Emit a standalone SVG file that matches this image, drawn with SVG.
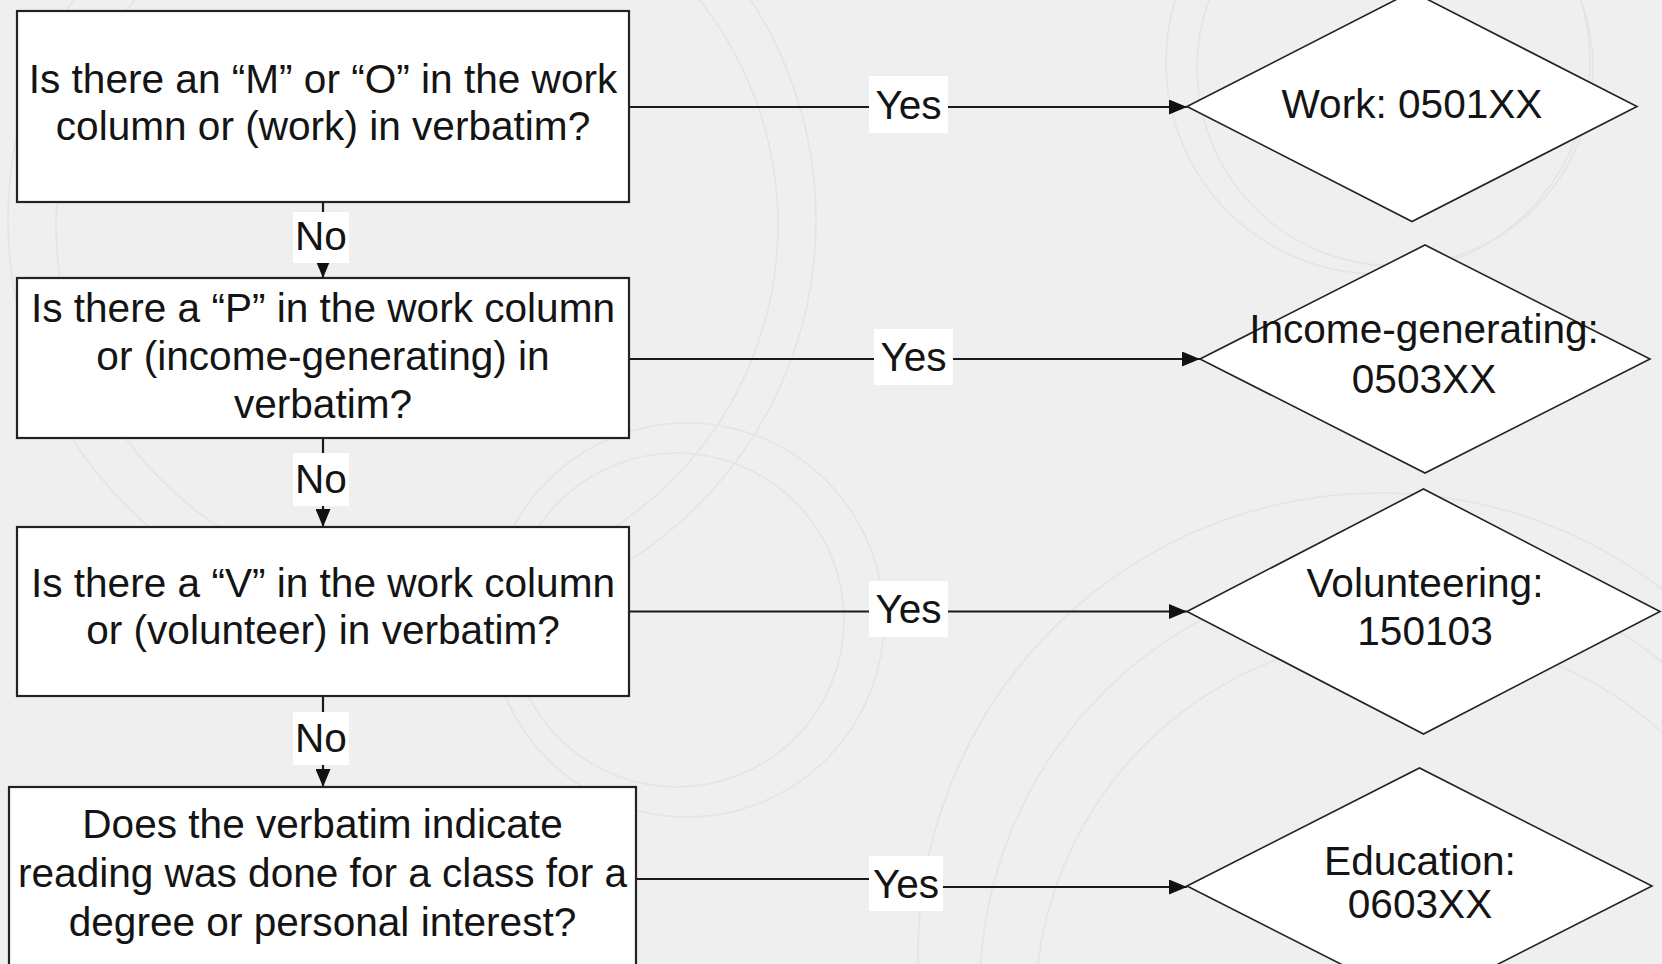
<svg xmlns="http://www.w3.org/2000/svg" width="1662" height="964" viewBox="0 0 1662 964">
<defs>
<style>
.bg{fill:#efefef}
.deco{fill:none;stroke:#e4e4e4;stroke-width:1.6}
.box{fill:#ffffff;stroke:#222222;stroke-width:2.2}
.dia{fill:#ffffff;stroke:#222222;stroke-width:1.6}
.t{font-family:"Liberation Sans",Arial,sans-serif;font-size:40.6px;fill:#141414;text-anchor:middle}
.lbl{fill:#ffffff}
.conn{fill:none;stroke:#1a1a1a;stroke-width:2.2}
</style>
<marker id="ah" markerUnits="userSpaceOnUse" markerWidth="18" markerHeight="15" refX="18" refY="7.5" orient="auto">
<path d="M0,0 L18,7.5 L0,15 z" fill="#111111"/>
</marker>
</defs>
<rect class="bg" x="0" y="0" width="1662" height="964"/>
<g id="background-decoration">
<circle class="deco" cx="412" cy="220" r="404"/>
<circle class="deco" cx="417" cy="225" r="361"/>
<circle class="deco" cx="1378" cy="62" r="212"/>
<circle class="deco" cx="1395" cy="68" r="198"/>
<circle class="deco" cx="677" cy="620" r="167"/>
<circle class="deco" cx="687" cy="620" r="197"/>
<circle class="deco" cx="1380" cy="955" r="462"/>
<circle class="deco" cx="1400" cy="990" r="420"/>
<circle class="deco" cx="1410" cy="1010" r="375"/>
</g>
<g id="connectors">
<line class="conn" x1="323" y1="202" x2="323" y2="278" marker-end="url(#ah)"/>
<line class="conn" x1="323" y1="438" x2="323" y2="527" marker-end="url(#ah)"/>
<line class="conn" x1="323" y1="696" x2="323" y2="787" marker-end="url(#ah)"/>
<line class="conn" x1="629" y1="107" x2="1187" y2="107" marker-end="url(#ah)"/>
<line class="conn" x1="629" y1="359" x2="1200" y2="359" marker-end="url(#ah)"/>
<line class="conn" x1="629" y1="611.5" x2="1187" y2="611.5" marker-end="url(#ah)"/>
<polyline class="conn" points="636,879 906,879 906,887 1187,887" marker-end="url(#ah)"/>
<rect class="lbl" x="293" y="212" width="56" height="51"/>
<text class="t" x="321" y="250">No</text>
<rect class="lbl" x="293" y="453" width="56" height="53"/>
<text class="t" x="321" y="493">No</text>
<rect class="lbl" x="293" y="712" width="56" height="53"/>
<text class="t" x="321" y="752">No</text>
<rect class="lbl" x="869" y="76" width="79" height="57"/>
<text class="t" x="908.5" y="119">Yes</text>
<rect class="lbl" x="874" y="329" width="79" height="56"/>
<text class="t" x="913.5" y="371">Yes</text>
<rect class="lbl" x="869" y="581" width="79" height="56"/>
<text class="t" x="908.5" y="623">Yes</text>
<rect class="lbl" x="869" y="856" width="74" height="55"/>
<text class="t" x="906" y="898">Yes</text>
</g>
<g id="q1">
<rect class="box" x="17" y="11" width="612" height="191"/>
<text class="t" x="323" y="93">Is there an “M” or “O” in the work</text>
<text class="t" x="323" y="140">column or (work) in verbatim?</text>
</g>
<g id="q2">
<rect class="box" x="17" y="278" width="612" height="160"/>
<text class="t" x="323" y="322">Is there a “P” in the work column</text>
<text class="t" x="323" y="370">or (income-generating) in</text>
<text class="t" x="323" y="418">verbatim?</text>
</g>
<g id="q3">
<rect class="box" x="17" y="527" width="612" height="169"/>
<text class="t" x="323" y="597">Is there a “V” in the work column</text>
<text class="t" x="323" y="644">or (volunteer) in verbatim?</text>
</g>
<g id="q4">
<rect class="box" x="9" y="787" width="627" height="185"/>
<text class="t" x="322.5" y="838">Does the verbatim indicate</text>
<text class="t" x="322.5" y="887">reading was done for a class for a</text>
<text class="t" x="322.5" y="936">degree or personal interest?</text>
</g>
<g id="work">
<polygon class="dia" points="1187,106.5 1412,-8.5 1637,106.5 1412,221.5"/>
<text class="t" x="1412" y="118">Work: 0501XX</text>
</g>
<g id="income">
<polygon class="dia" points="1200,359 1425,245 1650,359 1425,473"/>
<text class="t" x="1424" y="343">Income-generating:</text>
<text class="t" x="1424" y="393">0503XX</text>
</g>
<g id="volunteering">
<polygon class="dia" points="1187,611.5 1423.5,489 1660,611.5 1423.5,734"/>
<text class="t" x="1425" y="597">Volunteering:</text>
<text class="t" x="1425" y="645">150103</text>
</g>
<g id="education">
<polygon class="dia" points="1187,886 1419.5,768 1652,886 1419.5,1004"/>
<text class="t" x="1420" y="875">Education:</text>
<text class="t" x="1420" y="918">0603XX</text>
</g>
</svg>
